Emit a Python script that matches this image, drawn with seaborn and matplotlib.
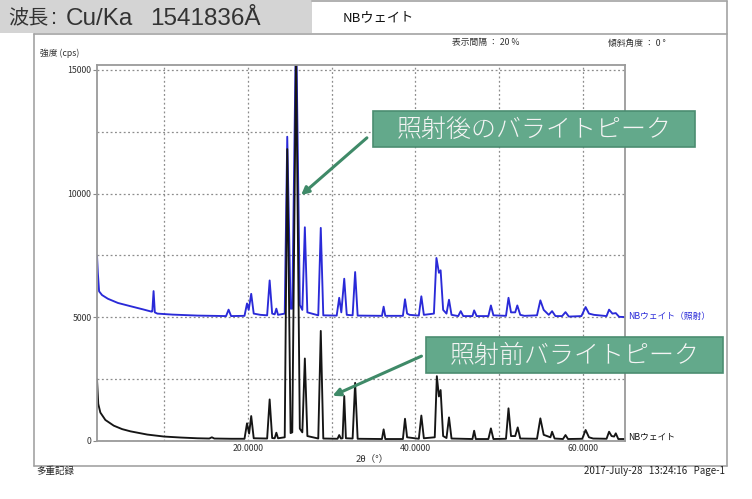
import pandas as pd
import matplotlib
matplotlib.use("Agg")
import matplotlib.pyplot as plt
from matplotlib.patches import Rectangle, FancyArrowPatch
from matplotlib.lines import Line2D
import seaborn as sns

W, H = 752, 499

# XRD pattern before irradiation (2θ in degrees, counts per second)
two_theta_before = [
    2.0, 2.15, 2.4, 3.0, 4.0, 5.0, 6.0, 8.0, 10.0, 12.0, 14.0, 15.4, 15.7, 16.0,
    18.0, 19.6, 19.9, 20.15, 20.4, 20.7, 22.3, 22.6, 22.9, 23.2, 23.4, 23.6,
    24.4, 24.7, 25.1, 25.3, 25.75, 26.2, 26.5, 26.8, 27.1, 28.4, 28.7, 29.0,
    30.7, 30.9, 31.1, 31.3, 31.5, 31.7, 32.5, 32.8, 33.1, 36.0, 36.2, 36.4,
    38.5, 38.75, 39.0, 40.4, 40.7, 41.0, 42.3, 42.55, 42.8, 43.0, 43.3, 43.7,
    44.0, 44.3, 46.8, 47.0, 47.2, 48.7, 49.0, 49.3, 50.8, 51.1, 51.4, 51.9,
    52.2, 52.5, 54.5, 54.9, 55.3, 56.1, 56.3, 56.6, 57.6, 57.9, 58.2, 59.9,
    60.3, 60.7, 61.2, 62.8, 63.1, 63.4, 63.7, 63.9, 64.2, 65.0,
]
counts_before = [
    2500, 1500, 1150, 850, 620, 480, 390, 260, 180, 140, 110, 100, 150, 100,
    90, 90, 715, 300, 1010, 110, 100, 1680, 120, 110, 335, 110,
    150, 11800, 320, 350, 15800, 500, 350, 3335, 200, 100, 4450, 100,
    90, 240, 100, 110, 1815, 110, 100, 2350, 90, 80, 470, 80,
    80, 900, 150, 90, 1030, 110, 150, 2620, 1800, 2060, 200, 120,
    955, 100, 80, 415, 80, 80, 510, 80, 90, 1320, 200, 200,
    550, 100, 90, 915, 250, 150, 375, 100, 80, 240, 80, 90,
    445, 150, 100, 90, 375, 200, 180, 310, 80, 80,
]

# XRD pattern after irradiation, drawn with a +5000 cps display offset
two_theta_after = [
    2.0, 2.1, 2.25, 2.6, 3.3, 4.5, 6.1, 7.5, 8.5, 8.6, 8.75, 8.9, 9.2, 11.0,
    14.0, 17.4, 17.7, 18.0, 19.6, 19.9, 20.1, 20.4, 20.7, 21.5, 22.3, 22.6,
    22.9, 23.2, 23.4, 23.6, 24.4, 24.7, 25.1, 25.3, 25.75, 26.2, 26.5, 26.8,
    27.1, 28.4, 28.7, 29.0, 30.6, 30.9, 31.15, 31.5, 31.8, 32.5, 32.8, 33.1,
    36.0, 36.2, 36.4, 38.5, 38.75, 39.0, 39.3, 40.4, 40.7, 41.0, 42.2, 42.5,
    42.8, 43.0, 43.3, 43.7, 44.0, 44.3, 45.1, 45.4, 45.7, 46.8, 47.0, 47.3,
    48.7, 49.0, 49.3, 50.8, 51.1, 51.4, 51.9, 52.15, 52.5, 53.0, 54.5, 54.9,
    55.3, 55.9, 56.3, 56.7, 57.5, 57.9, 58.3, 59.8, 60.3, 60.7, 61.3, 62.8,
    63.1, 63.5, 63.9, 64.3, 65.0,
]
counts_after = [
    7500, 6800, 6050, 5900, 5750, 5580, 5440, 5320, 5230, 5240, 6060, 5200, 5150, 5110,
    5070, 5050, 5310, 5050, 5060, 5560, 5300, 5950, 5150, 5100, 5080, 6490,
    5150, 5120, 5350, 5100, 5150, 12300, 5350, 5350, 17000, 5500, 5300, 8640,
    5200, 5080, 8615, 5080, 5070, 5790, 5200, 6560, 5100, 5080, 6830, 5070,
    5060, 5430, 5060, 5060, 5730, 5150, 5100, 5070, 5850, 5100, 5150, 7400,
    6800, 6900, 5300, 5150, 5710, 5100, 5050, 5250, 5050, 5050, 5280, 5050,
    5050, 5480, 5080, 5060, 5790, 5200, 5200, 5480, 5100, 5060, 5080, 5685,
    5300, 5100, 5250, 5050, 5050, 5210, 5030, 5050, 5415, 5150, 5100, 5050,
    5310, 5150, 5170, 5020, 5010,
]

sample_labels = ["NBウェイト（照射）", "NBウェイト"]
line_colors = ["#2a2ad8", "#151515"]
x_major = [20, 40, 60]
x_major_labels = ["20.0000", "40.0000", "60.0000"]
x_minor = [10, 30, 50]
y_major = [0, 5000, 10000, 15000]
y_minor = [2500, 7500, 12500]

df = pd.concat([
    pd.DataFrame({"two_theta": two_theta_after, "cps": counts_after,
                  "sample": sample_labels[0]}),
    pd.DataFrame({"two_theta": two_theta_before, "cps": counts_before,
                  "sample": sample_labels[1]}),
], ignore_index=True)

sns.set_theme(style="white")
plt.rcParams["font.family"] = ["Noto Sans CJK JP", "DejaVu Sans"]

fig = plt.figure(figsize=(W / 100, H / 100), dpi=100)


def fx(x):
    return x / W


def fy(y):
    return 1 - y / H


FRAME = "#a3a3a3"
GREEN = "#63a98b"
GREEN_EDGE = "#4b8d71"
ARROW = "#3f8a68"
TXT = "#333333"
LATIN = ["Liberation Sans", "Noto Sans CJK JP"]

# page header and frame
fig.add_artist(Rectangle((fx(0), fy(33)), fx(312), fy(0) - fy(33),
                         transform=fig.transFigure, facecolor="#d4d4d4",
                         edgecolor="none", zorder=0))
for (x0, y0, x1, y1) in [(312, 1, 727, 1), (727, 1, 727, 466), (34, 34, 727, 34),
                         (34, 34, 34, 466), (34, 466, 727, 466)]:
    fig.add_artist(Line2D([fx(x0), fx(x1)], [fy(y0), fy(y1)],
                          transform=fig.transFigure, color=FRAME, lw=1.2))

# wavelength banner
fig.text(fx(8), fy(19), "波長", fontsize=14.5, color=TXT, va="center", ha="left")
fig.text(fx(51), fy(19), ":", fontsize=16, family=LATIN, color=TXT,
         va="center", ha="left")
fig.text(fx(66), fy(19), "Cu/Ka", fontsize=17.5, family=LATIN, color=TXT,
         va="center", ha="left")
fig.text(fx(150), fy(19), "1541836Å", fontsize=17.5, family=LATIN, color=TXT,
         va="center", ha="left")

fig.text(fx(343), fy(18), "NBウェイト", fontsize=9.5, color="#111111",
         va="center", ha="left")
fig.text(fx(452), fy(43), "表示間隔 ： 20 %", fontsize=6.3, color=TXT,
         va="center", ha="left")
fig.text(fx(608), fy(43), "傾斜角度 ： 0 °", fontsize=6.3, color=TXT,
         va="center", ha="left")
fig.text(fx(40), fy(53), "強度 (cps)", fontsize=6.3, color=TXT,
         va="center", ha="left")
fig.text(fx(36), fy(471), "多重記録", fontsize=6.8, color="#222222",
         va="center", ha="left")
fig.text(fx(725), fy(471), "2017-July-28   13:24:16   Page-1", fontsize=7,
         color="#222222", va="center", ha="right")
fig.text(fx(372), fy(459), "2θ（°）", fontsize=6.8, color=TXT,
         va="center", ha="center")

ax = fig.add_axes([fx(97), fy(441), fx(625) - fx(97), fy(65) - fy(441)])
sns.lineplot(data=df, x="two_theta", y="cps", hue="sample",
             hue_order=sample_labels, palette=line_colors, estimator=None,
             sort=False, legend=False, lw=1.35, ax=ax)

ax.set_xlim(2, 65)
ax.set_ylim(0, 15200)
ax.set_xticks(x_major)
ax.set_xticklabels(x_major_labels)
ax.set_xticks(x_minor, minor=True)
ax.set_yticks(y_major)
ax.set_yticklabels([str(v) for v in y_major])
ax.set_yticks(y_minor, minor=True)
ax.grid(which="both", color="#8c8c8c", lw=0.9, linestyle=(0, (1.5, 2)))
ax.set_axisbelow(True)
ax.tick_params(axis="x", which="major", length=0, pad=2, labelsize=6.3,
               labelcolor=TXT)
ax.tick_params(axis="y", which="major", length=3, width=0.8, color="#888888",
               pad=1, labelsize=6.3, labelcolor=TXT, left=True)
ax.tick_params(which="minor", length=0)
ax.set_xlabel("")
ax.set_ylabel("")
for side, sp in ax.spines.items():
    sp.set_visible(True)
    sp.set_color("#9a9a9a")
    sp.set_linewidth(1.3)

# series labels at the right end of each trace
fig.text(fx(628), fy(316), sample_labels[0], fontsize=6.3, color=line_colors[0],
         va="center", ha="left")
fig.text(fx(628), fy(437), sample_labels[1], fontsize=6.3, color="#111111",
         va="center", ha="left")

# callout boxes with arrows
callouts = [
    ((373, 111, 695, 147), "照射後のバライトピーク", (369, 136), (299, 197)),
    ((426, 337, 723, 373), "照射前バライトピーク", (424, 355), (330, 397)),
]
for (x0, y0, x1, y1), label, tail, head in callouts:
    fig.add_artist(Rectangle((fx(x0), fy(y1)), fx(x1) - fx(x0), fy(y0) - fy(y1),
                             transform=fig.transFigure, facecolor=GREEN,
                             edgecolor=GREEN_EDGE, lw=1.2, zorder=5))
    fig.text(fx((x0 + x1) / 2), fy((y0 + y1) / 2 + 1), label, fontsize=18,
             color="#f4f4f4", ha="center", va="center", zorder=6,
             fontweight="light")
    fig.add_artist(FancyArrowPatch((fx(tail[0]), fy(tail[1])),
                                   (fx(head[0]), fy(head[1])),
                                   transform=fig.transFigure,
                                   arrowstyle="-|>", mutation_scale=11,
                                   color=ARROW, lw=2.2, zorder=6))

fig.savefig("out.png", dpi=100)
